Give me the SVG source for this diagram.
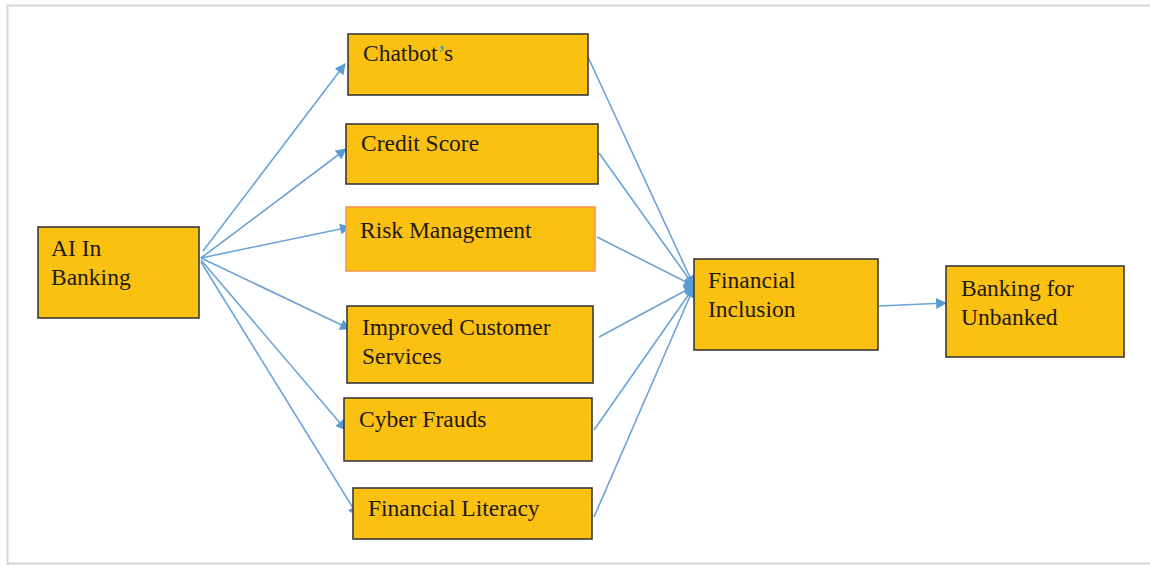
<svg xmlns="http://www.w3.org/2000/svg" width="1150" height="565" viewBox="0 0 1150 565">
  <style>
    .box { fill: #fbc110; stroke: #3a3a3a; stroke-width: 1.6; }
    .box-alt { fill: #fbc110; stroke: #f39a4a; stroke-width: 1.6; }
    .lbl { font-family: "Liberation Serif", "Times New Roman", serif; font-size: 23.5px; fill: #1e1a12; }
    .link { stroke: #6aa3d8; stroke-width: 1.6; fill: none; }
  </style>
  <defs>
    <marker id="arrow" viewBox="0 0 10 10" refX="9" refY="5" markerWidth="12" markerHeight="11" markerUnits="userSpaceOnUse" orient="auto">
      <path d="M0,0 L10,5 L0,10 z" fill="#5b9bd5"/>
    </marker>
  </defs>

  <!-- page frame -->
  <rect x="0" y="0" width="1150" height="565" fill="#ffffff"/>
  <path d="M7.5,565 V5.5 H1150" fill="none" stroke="#d4d8d8" stroke-width="2"/>
  <path d="M7,563.5 H1150" fill="none" stroke="#d4d8d8" stroke-width="2"/>

  <!-- connectors -->
  <g id="connectors">
    <line class="link" x1="203" y1="251" x2="345" y2="64" marker-end="url(#arrow)"/>
    <line class="link" x1="201" y1="258" x2="346" y2="149" marker-end="url(#arrow)"/>
    <line class="link" x1="201" y1="258" x2="350" y2="227" marker-end="url(#arrow)"/>
    <line class="link" x1="201" y1="258" x2="350" y2="329" marker-end="url(#arrow)"/>
    <line class="link" x1="201" y1="260" x2="346" y2="430" marker-end="url(#arrow)"/>
    <line class="link" x1="201" y1="262" x2="358" y2="516" marker-end="url(#arrow)"/>

    <line class="link" x1="588" y1="57" x2="694" y2="286" marker-end="url(#arrow)"/>
    <line class="link" x1="599" y1="153" x2="694" y2="286" marker-end="url(#arrow)"/>
    <line class="link" x1="597" y1="237" x2="694" y2="286" marker-end="url(#arrow)"/>
    <line class="link" x1="599" y1="337" x2="694" y2="286" marker-end="url(#arrow)"/>
    <line class="link" x1="594" y1="430" x2="694" y2="287" marker-end="url(#arrow)"/>
    <line class="link" x1="594" y1="517" x2="694" y2="287" marker-end="url(#arrow)"/>

    <line class="link" x1="879" y1="306" x2="946" y2="303" marker-end="url(#arrow)"/>
  </g>

  <g id="ai-in-banking">
    <rect class="box" x="38" y="227" width="161" height="91"/>
    <text class="lbl" x="51" y="256">AI In</text>
    <text class="lbl" x="51" y="285">Banking</text>
  </g>

  <g id="chatbots">
    <rect class="box" x="348" y="34" width="240" height="61"/>
    <text class="lbl" x="363" y="61">Chatbot<tspan fill="#3a9fc4">’</tspan>s</text>
  </g>

  <g id="credit-score">
    <rect class="box" x="346" y="124" width="252" height="60"/>
    <text class="lbl" x="361" y="151">Credit Score</text>
  </g>

  <g id="risk-management">
    <rect class="box-alt" x="346" y="207" width="249" height="64"/>
    <text class="lbl" x="360" y="238">Risk Management</text>
  </g>

  <g id="improved-customer-services">
    <rect class="box" x="347" y="306" width="246" height="77"/>
    <text class="lbl" x="362" y="335">Improved Customer</text>
    <text class="lbl" x="362" y="364">Services</text>
  </g>

  <g id="cyber-frauds">
    <rect class="box" x="344" y="398" width="248" height="63"/>
    <text class="lbl" x="359" y="427">Cyber Frauds</text>
  </g>

  <g id="financial-literacy">
    <rect class="box" x="353" y="488" width="239" height="51"/>
    <text class="lbl" x="368" y="516">Financial Literacy</text>
  </g>

  <g id="financial-inclusion">
    <rect class="box" x="694" y="259" width="184" height="91"/>
    <text class="lbl" x="708" y="288">Financial</text>
    <text class="lbl" x="708" y="317">Inclusion</text>
  </g>

  <g id="banking-for-unbanked">
    <rect class="box" x="946" y="266" width="178" height="91"/>
    <text class="lbl" x="961" y="296">Banking for</text>
    <text class="lbl" x="961" y="325">Unbanked</text>
  </g>
</svg>
